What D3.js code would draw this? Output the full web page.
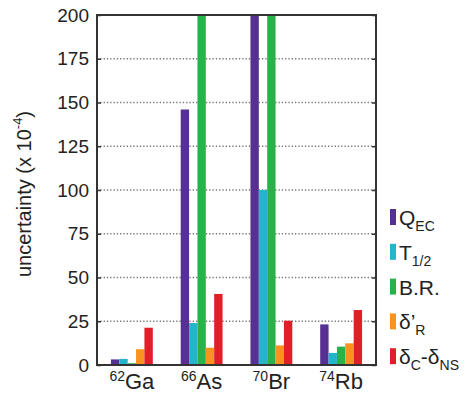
<!DOCTYPE html>
<html>
<head>
<meta charset="utf-8">
<script src="https://cdn.jsdelivr.net/npm/d3@7"></script>
<style>
  body { margin: 0; background: #fff; }
  svg { font-family: "Liberation Sans", Arial, sans-serif; }
</style>
</head>
<body>
<div id="vis"></div>
<script>
// data (units of 10^-4)
const nuclides = ["Ga", "As", "Br", "Rb"];
const massNumbers = ["62", "66", "70", "74"];
const seriesKeys = ["qec", "thalf", "br", "dr", "dc"];
const qEC = [3.2, 146, 200, 23.2];
const tHalf = [3.5, 24, 100, 6.9];
const branching = [1, 200, 200, 10.5];
const deltaR = [9, 9.9, 11.2, 12.4];
const deltaC = [21.3, 40.6, 25.3, 31.4];
const yTicks = [0, 25, 50, 75, 100, 125, 150, 175, 200];
// legend labels: [main, subscript, main, subscript]
const legendLabels = [
  ["Q", "EC"],
  ["T", "1/2"],
  ["B.R.", ""],
  ["\u03B4\u2019", "R"],
  ["\u03B4", "C", "-\u03B4", "NS"]
];
const colors = ["#563092", "#22b5cc", "#29b24a", "#f8931f", "#e11f28"];

const seriesValues = [qEC, tHalf, branching, deltaR, deltaC];

const dimensions = {
  width: 467,
  height: 394,
  margin: {top: 15, right: 91, bottom: 29, left: 97}
};
dimensions.boundedWidth = dimensions.width - dimensions.margin.left - dimensions.margin.right;
dimensions.boundedHeight = dimensions.height - dimensions.margin.top - dimensions.margin.bottom;

const svg = d3.select("#vis")
  .append("svg")
  .attr("width", dimensions.width)
  .attr("height", dimensions.height);

const bounds = svg.append("g")
  .attr("transform", `translate(${dimensions.margin.left}, ${dimensions.margin.top})`);

const xScale = d3.scaleBand()
  .domain(nuclides)
  .range([0, dimensions.boundedWidth])
  .paddingInner(0.4)
  .paddingOuter(0.2);

const xInner = d3.scaleBand()
  .domain(seriesKeys)
  .range([0, xScale.bandwidth()]);

const yScale = d3.scaleLinear()
  .domain([0, 200])
  .range([dimensions.boundedHeight, 0]);

// dotted grid lines
bounds.append("g")
  .selectAll("line")
  .data(yTicks.filter(d => d > 0 && d < 200))
  .join("line")
  .attr("x1", 0)
  .attr("x2", dimensions.boundedWidth)
  .attr("y1", d => yScale(d))
  .attr("y2", d => yScale(d))
  .attr("stroke", "#777")
  .attr("stroke-width", 1.3)
  .attr("stroke-dasharray", "1.3,2");

// bars
const rows = nuclides.map((n, i) => seriesKeys.map((k, j) => ({nuclide: n, key: k, value: seriesValues[j][i], color: colors[j]})));

bounds.selectAll(".group")
  .data(rows)
  .join("g")
  .attr("class", "group")
  .attr("transform", (d, i) => `translate(${xScale(nuclides[i])}, 0)`)
  .selectAll("rect")
  .data(d => d)
  .join("rect")
  .attr("x", d => xInner(d.key))
  .attr("width", xInner.bandwidth())
  .attr("y", d => yScale(d.value))
  .attr("height", d => yScale(0) - yScale(d.value))
  .attr("fill", d => d.color);

// y axis (left) with inward ticks
const yAxis = d3.axisLeft(yScale)
  .tickValues(yTicks)
  .tickSize(-4)
  .tickPadding(8);

const yAxisGroup = bounds.append("g").call(yAxis);
yAxisGroup.select(".domain").remove();
yAxisGroup.selectAll(".tick line").attr("stroke", "#333").attr("stroke-width", 1.5);
yAxisGroup.selectAll("text")
  .attr("font-size", 19)
  .attr("fill", "#222");

const yAxisRight = d3.axisRight(yScale)
  .tickValues(yTicks)
  .tickSize(-4)
  .tickFormat("");
const yAxisRightGroup = bounds.append("g")
  .attr("transform", `translate(${dimensions.boundedWidth}, 0)`)
  .call(yAxisRight);
yAxisRightGroup.select(".domain").remove();
yAxisRightGroup.selectAll(".tick line").attr("stroke", "#333").attr("stroke-width", 1.5);

// frame
bounds.append("rect")
  .attr("x", 0)
  .attr("y", 0)
  .attr("width", dimensions.boundedWidth)
  .attr("height", dimensions.boundedHeight)
  .attr("fill", "none")
  .attr("stroke", "#333")
  .attr("stroke-width", 2);

// x labels with mass number superscripts
const xLabels = bounds.append("g")
  .selectAll("text")
  .data(nuclides)
  .join("text")
  .attr("x", d => xScale(d) + xScale.bandwidth() / 2)
  .attr("y", dimensions.boundedHeight + 24)
  .attr("text-anchor", "middle")
  .attr("fill", "#222");
xLabels.append("tspan")
  .attr("font-size", 14)
  .attr("dy", -8)
  .text((d, i) => massNumbers[i]);
xLabels.append("tspan")
  .attr("font-size", 22)
  .attr("dy", 8)
  .text(d => d);

// y axis title
svg.append("text")
  .attr("transform", `translate(31, 194) rotate(-90)`)
  .attr("text-anchor", "middle")
  .attr("font-size", 20)
  .attr("fill", "#222")
  .call(t => {
    t.append("tspan").text("uncertainty (x 10");
    t.append("tspan").attr("font-size", 13).attr("dy", -9).text("-4");
    t.append("tspan").attr("dy", 9).text(")");
  });

// legend
const legend = svg.append("g")
  .attr("transform", "translate(390, 0)");

const legendItems = legend.selectAll("g")
  .data(legendLabels)
  .join("g")
  .attr("transform", (d, i) => `translate(0, ${225 + i * 34.8})`);

legendItems.append("rect")
  .attr("x", 0)
  .attr("y", -16)
  .attr("width", 6)
  .attr("height", 16)
  .attr("fill", (d, i) => colors[i]);

legendItems.append("text")
  .attr("x", 9)
  .attr("y", 0)
  .attr("font-size", 21)
  .attr("fill", "#222")
  .each(function(parts) {
    const t = d3.select(this);
    parts.forEach((p, k) => {
      if (p === "") return;
      const sub = k % 2 === 1;
      const prevSub = k > 0 && (k - 1) % 2 === 1;
      t.append("tspan")
        .attr("font-size", sub ? 14 : 21)
        .attr("dy", sub ? 6 : (prevSub ? -6 : 0))
        .text(p);
    });
  });
</script>
</body>
</html>
